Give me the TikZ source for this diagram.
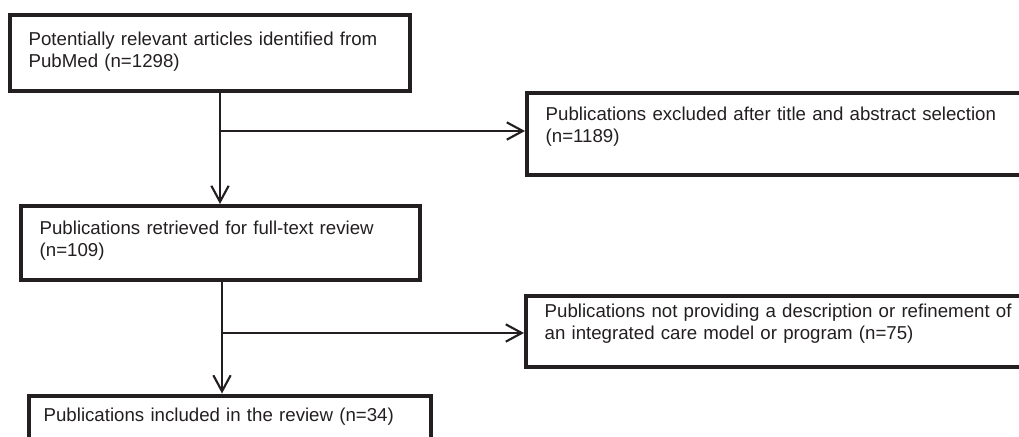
\documentclass[tikz,border=0pt]{standalone}
\usepackage{fontspec}
\setmainfont{Liberation Sans}
\usetikzlibrary{arrows.meta}
\definecolor{ink}{HTML}{231F20}
\begin{document}
\begin{tikzpicture}[
		x=0.75pt,y=-0.75pt,
		>={Straight Barb[length=12pt,width=13pt]},
		line cap=round,
		line join=round,
		block/.style={draw=ink,line width=3pt,line cap=butt,line join=miter,anchor=north west,inner xsep=14pt,inner ysep=0pt,align=left,text=ink,font=\fontsize{14}{16.5}\selectfont},
		flow/.style={draw=ink,line width=1.6pt,->}
		]
		\useasboundingbox (0,0) rectangle (1019,436);
		\clip (0,0) rectangle (1019,436);
		\node[block,text width=272pt,text height=22.5pt,text depth=34.5pt] (identified) at (8,13) {Potentially relevant articles identified from\\PubMed (n=1298)};
		\node[block,text width=400pt,text height=20.8pt,text depth=41pt] (excluded) at (525,91) {Publications excluded after title and abstract selection\\(n=1189)};
		\node[block,text width=271.5pt,text height=21pt,text depth=34.5pt] (retrieved) at (19,204) {Publications retrieved for full-text review\\(n=109)};
		\node[block,text width=400pt,text height=16.5pt,text depth=37pt] (notdescribed) at (524,293.5) {Publications not providing a description or refinement of\\an integrated care model or program (n=75)};
		\node[block,inner xsep=11pt,text width=279.5pt,text height=19.5pt,text depth=30pt] (included) at (27,393.5) {Publications included in the review (n=34)};
		\coordinate (j1) at (220,131);
		\coordinate (j2) at (222,333);
		\begin{scope}[flow]
		\draw (identified.south -| j1) -- (retrieved.north -| j1);
		\draw (j1) -- (j1 -| excluded.west);
		\draw (retrieved.south -| j2) -- (included.north -| j2);
		\draw (j2) -- (j2 -| notdescribed.west);
		\end{scope}
		\end{tikzpicture}
\end{document}
